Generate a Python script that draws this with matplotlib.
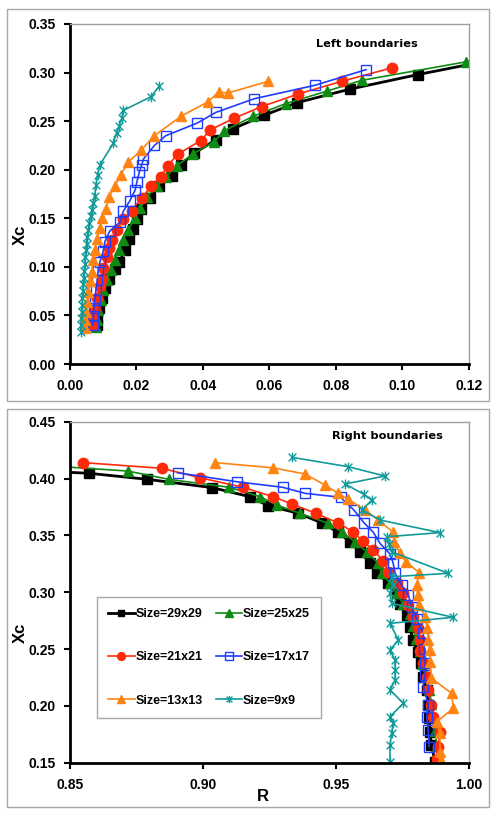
import numpy as np
import matplotlib
matplotlib.use("Agg")
import matplotlib.pyplot as plt
from matplotlib.path import Path
from matplotlib.patches import Rectangle

plt.rcParams["font.family"] = ["Liberation Sans", "DejaVu Sans"]

# ---- Left boundaries (top panel) ----
left_29_r = [0.0080, 0.0082, 0.0088, 0.0095, 0.0105, 0.0118, 0.0135, 0.0148, 0.0166, 0.0178, 0.0190, 0.0201,
             0.0213, 0.0241, 0.0268, 0.0306, 0.0333, 0.0374, 0.0440, 0.0490, 0.0584, 0.0683, 0.0843, 0.1048, 0.1300]
left_29_x = [0.040, 0.048, 0.058, 0.068, 0.078, 0.088, 0.098, 0.105, 0.117, 0.129, 0.139, 0.149,
             0.160, 0.171, 0.183, 0.194, 0.205, 0.217, 0.231, 0.242, 0.256, 0.269, 0.283, 0.298, 0.315]
left_25_r = [0.0078, 0.0080, 0.0085, 0.0092, 0.0100, 0.0110, 0.0122, 0.0135, 0.0148, 0.0160, 0.0175, 0.0195,
             0.0212, 0.0231, 0.0262, 0.0290, 0.0321, 0.0369, 0.0434, 0.0464, 0.0551, 0.0649, 0.0774, 0.0878, 0.1191]
left_25_x = [0.038, 0.045, 0.056, 0.066, 0.076, 0.086, 0.097, 0.107, 0.117, 0.128, 0.138, 0.150,
             0.161, 0.172, 0.183, 0.193, 0.204, 0.216, 0.229, 0.240, 0.255, 0.268, 0.281, 0.292, 0.311]
left_21_r = [0.0068, 0.0070, 0.0075, 0.0080, 0.0090, 0.0095, 0.0100, 0.0110, 0.0118, 0.0125, 0.0140, 0.0160,
             0.0186, 0.0216, 0.0244, 0.0274, 0.0294, 0.0324, 0.0394, 0.0422, 0.0494, 0.0577, 0.0687, 0.0818, 0.0970]
left_21_x = [0.040, 0.049, 0.057, 0.068, 0.080, 0.088, 0.0985, 0.110, 0.119, 0.128, 0.138, 0.149,
             0.158, 0.171, 0.183, 0.193, 0.204, 0.216, 0.230, 0.241, 0.253, 0.265, 0.278, 0.291, 0.305]
left_17_r = [0.0068, 0.0070, 0.0072, 0.0075, 0.0078, 0.0082, 0.0085, 0.0090, 0.0100, 0.0105, 0.0120, 0.0151,
             0.0160, 0.0180, 0.0196, 0.0201, 0.0209, 0.0216, 0.0221, 0.0254, 0.0288, 0.0383, 0.0439, 0.0554,
             0.0738, 0.0891]
left_17_x = [0.040, 0.049, 0.058, 0.066, 0.076, 0.086, 0.097, 0.105, 0.116, 0.126, 0.137, 0.146,
             0.157, 0.168, 0.179, 0.187, 0.198, 0.205, 0.211, 0.225, 0.235, 0.248, 0.259, 0.273,
             0.287, 0.303]
left_13_r = [0.0045, 0.0045, 0.0048, 0.0052, 0.0055, 0.0060, 0.0065, 0.0070, 0.0075, 0.0080, 0.0090, 0.0095,
             0.0108, 0.0118, 0.0135, 0.0153, 0.0176, 0.0214, 0.0254, 0.0334, 0.0416, 0.0447, 0.0475, 0.0597]
left_13_x = [0.037, 0.045, 0.054, 0.064, 0.074, 0.085, 0.095, 0.107, 0.117, 0.129, 0.140, 0.150,
             0.160, 0.172, 0.183, 0.195, 0.208, 0.220, 0.235, 0.255, 0.270, 0.280, 0.279, 0.291]
left_9_r = [0.0032, 0.0033, 0.0034, 0.0035, 0.0036, 0.0037, 0.0038, 0.0040, 0.0041, 0.0043, 0.0045, 0.0046,
            0.0048, 0.0050, 0.0052, 0.0055, 0.0058, 0.0062, 0.0066, 0.0070, 0.0074, 0.0078, 0.0083, 0.0090,
            0.0130, 0.0140, 0.0148, 0.0156, 0.0160, 0.0243, 0.0269]
left_9_x = [0.033, 0.040, 0.047, 0.054, 0.061, 0.068, 0.075, 0.082, 0.089, 0.096, 0.103, 0.110,
            0.117, 0.124, 0.131, 0.138, 0.145, 0.152, 0.159, 0.166, 0.173, 0.184, 0.195, 0.205,
            0.227, 0.2375, 0.245, 0.253, 0.261, 0.275, 0.286]

# ---- Right boundaries (bottom panel) ----
right_29_r = [0.8400, 0.8573, 0.8791, 0.9035, 0.9177, 0.9246, 0.9359, 0.9447, 0.9509, 0.9553, 0.9591, 0.9629,
              0.9654, 0.9698, 0.9729, 0.9742, 0.9767, 0.9779, 0.9789, 0.9810, 0.9819, 0.9829, 0.9842, 0.9848,
              0.9851, 0.9854, 0.9860, 0.9873]
right_29_x = [0.4065, 0.4046, 0.3993, 0.392, 0.384, 0.376, 0.3694, 0.361, 0.3527, 0.3444, 0.3356, 0.326,
              0.317, 0.308, 0.299, 0.290, 0.280, 0.2697, 0.258, 0.2477, 0.2374, 0.2257, 0.214, 0.2008,
              0.189, 0.177, 0.1656, 0.151]
right_25_r = [0.8400, 0.8717, 0.8872, 0.9099, 0.9215, 0.9278, 0.9365, 0.9472, 0.9522, 0.9572, 0.9616, 0.9660,
              0.9673, 0.9704, 0.9729, 0.9752, 0.9779, 0.9790, 0.9800, 0.9815, 0.9825, 0.9838, 0.9852, 0.9860,
              0.9868, 0.9875, 0.9880, 0.9885]
right_25_x = [0.4115, 0.4066, 0.3993, 0.3923, 0.384, 0.3767, 0.3694, 0.3606, 0.3532, 0.3444, 0.3356, 0.3254,
              0.3166, 0.308, 0.299, 0.290, 0.281, 0.270, 0.259, 0.248, 0.237, 0.226, 0.214, 0.202,
              0.190, 0.178, 0.165, 0.153]
right_21_r = [0.8550, 0.8845, 0.8989, 0.9150, 0.9265, 0.9334, 0.9425, 0.9507, 0.9564, 0.9601, 0.9641, 0.9679,
              0.9698, 0.9729, 0.9754, 0.9773, 0.9792, 0.9810, 0.9817, 0.9817, 0.9829, 0.9842, 0.9848, 0.9857,
              0.9867, 0.9892, 0.9886, 0.9880]
right_21_x = [0.414, 0.409, 0.4007, 0.3923, 0.384, 0.3776, 0.3694, 0.3611, 0.3532, 0.345, 0.3371, 0.3274,
              0.318, 0.3084, 0.299, 0.2887, 0.2784, 0.2682, 0.258, 0.2485, 0.2374, 0.2257, 0.214, 0.2008,
              0.1905, 0.1773, 0.164, 0.153]
right_17_r = [0.8905, 0.9127, 0.9300, 0.9384, 0.9518, 0.9568, 0.9606, 0.9641, 0.9666, 0.9704, 0.9716, 0.9723,
              0.9748, 0.9773, 0.9786, 0.9805, 0.9829, 0.9833, 0.9836, 0.9836, 0.9829, 0.9848, 0.9842, 0.9848,
              0.9851]
right_17_x = [0.4051, 0.3972, 0.3923, 0.387, 0.3835, 0.3723, 0.3611, 0.3527, 0.343, 0.3336, 0.3254, 0.3166,
              0.3063, 0.2975, 0.2872, 0.276, 0.2638, 0.250, 0.2374, 0.2272, 0.2169, 0.2008, 0.1905, 0.1788,
              0.164]
right_13_r = [0.9045, 0.9262, 0.9384, 0.9459, 0.9509, 0.9547, 0.9610, 0.9660, 0.9716, 0.9719, 0.9741, 0.9764,
              0.9814, 0.9804, 0.9808, 0.9814, 0.9836, 0.9844, 0.9848, 0.9854, 0.9854, 0.9860, 0.9936, 0.9942,
              0.9880, 0.9892, 0.9892, 0.9895]
right_13_x = [0.414, 0.4095, 0.404, 0.3943, 0.387, 0.3817, 0.3723, 0.3635, 0.3527, 0.3444, 0.3342, 0.3268,
              0.3172, 0.3063, 0.2975, 0.2887, 0.2784, 0.2682, 0.258, 0.2491, 0.2389, 0.2243, 0.211, 0.1979,
              0.1861, 0.1759, 0.1597, 0.152]
right_9_r = [0.9334, 0.9547, 0.9685, 0.9535, 0.9606, 0.9635, 0.9600, 0.9666, 0.9892, 0.9691, 0.9700, 0.9710,
             0.9923, 0.9710, 0.9716, 0.9704, 0.9710, 0.9942, 0.9704, 0.9735, 0.9704, 0.9723, 0.9723, 0.9723,
             0.9704, 0.9754, 0.9704, 0.9716, 0.9710, 0.9704, 0.9704]
right_9_x = [0.4187, 0.4104, 0.4022, 0.3952, 0.3861, 0.3811, 0.3723, 0.3635, 0.3524, 0.3488, 0.3420, 0.3356,
             0.3166, 0.3136, 0.3063, 0.2990, 0.2902, 0.2779, 0.2726, 0.258, 0.2491, 0.2403, 0.2315, 0.2227,
             0.214, 0.2023, 0.1905, 0.1847, 0.1760, 0.1656, 0.151]

labels = ["Size=29x29", "Size=25x25", "Size=21x21", "Size=17x17", "Size=13x13", "Size=9x9"]

# excel-like star: x with a vertical bar
star = Path([(-1, -1), (1, 1), (-1, 1), (1, -1), (0, -1.25), (0, 1.25)],
            [Path.MOVETO, Path.LINETO, Path.MOVETO, Path.LINETO, Path.MOVETO, Path.LINETO])

styles = [
    dict(color="black", marker="s", ms=6.5, lw=2.0),
    dict(color="#0f8a12", marker="^", ms=7, lw=1.2),
    dict(color="#ff2a0a", marker="o", ms=7.5, lw=1.2),
    dict(color="#1f3cff", marker="s", ms=7, lw=1.2, mfc="none", mew=1.0),
    dict(color="#ff8412", marker="^", ms=7.5, lw=1.2),
    dict(color="#119a9a", marker=star, ms=7, lw=1.2, mew=1.0),
]

W, H = 498, 816
fig = plt.figure(figsize=(W / 100, H / 100), dpi=100)

# panel borders
for (x0, y0, x1, y1) in [(7, 9, 489, 401), (7, 409, 489, 807)]:
    fig.patches.append(Rectangle((x0 / W, 1 - y1 / H), (x1 - x0) / W, (y1 - y0) / H,
                                 transform=fig.transFigure, fill=False, ec="#a8a8a8", lw=1.0))

ax1 = fig.add_axes([70 / W, 1 - 364 / H, 398.7 / W, 340 / H])
ax2 = fig.add_axes([70 / W, 1 - 762.7 / H, 398.7 / W, 341 / H])

left = [(left_29_r, left_29_x), (left_25_r, left_25_x), (left_21_r, left_21_x),
        (left_17_r, left_17_x), (left_13_r, left_13_x), (left_9_r, left_9_x)]
right = [(right_29_r, right_29_x), (right_25_r, right_25_x), (right_21_r, right_21_x),
         (right_17_r, right_17_x), (right_13_r, right_13_x), (right_9_r, right_9_x)]

handles = []
for (r, x), st, lab in zip(left, styles, labels):
    ax1.plot(r, x, **st, label=lab)
for (r, x), st, lab in zip(right, styles, labels):
    h, = ax2.plot(r, x, **st, label=lab)
    handles.append(h)

ax1.set_xlim(0, 0.12)
ax1.set_ylim(0, 0.35)
ax1.set_xticks(np.arange(0, 0.121, 0.02))
ax1.set_yticks(np.arange(0, 0.351, 0.05))
ax2.set_xlim(0.85, 1.0)
ax2.set_ylim(0.15, 0.45)
ax2.set_xticks(np.arange(0.85, 1.001, 0.05))
ax2.set_yticks(np.arange(0.15, 0.451, 0.05))

for ax in (ax1, ax2):
    ax.xaxis.set_major_formatter(matplotlib.ticker.FormatStrFormatter("%.2f"))
    ax.yaxis.set_major_formatter(matplotlib.ticker.FormatStrFormatter("%.2f"))
    for s in ("left", "bottom"):
        ax.spines[s].set_linewidth(2.0)
        ax.spines[s].set_color("black")
    for s in ("top", "right"):
        ax.spines[s].set_linewidth(1.0)
        ax.spines[s].set_color("#a0a0a0")
    ax.tick_params(direction="out", length=4, width=1.5)
    ax.tick_params(axis="x", pad=7)
    ax.tick_params(axis="y", pad=6)
    for t in ax.get_xticklabels() + ax.get_yticklabels():
        t.set_fontweight("bold")
        t.set_fontsize(10)
    ax.set_ylabel("Xc", fontsize=12, fontweight="bold")
    ax.yaxis.set_label_coords(-0.105, 0.38)

ax1.text(0.745, 0.942, "Left boundaries", transform=ax1.transAxes, ha="center", va="center",
         fontsize=8.2, fontweight="bold", family="DejaVu Sans")
ax2.text(0.797, 0.958, "Right boundaries", transform=ax2.transAxes, ha="center", va="center",
         fontsize=8.2, fontweight="bold", family="DejaVu Sans")

ax2.set_xlabel("R", fontsize=12, fontweight="bold")
ax2.xaxis.set_label_coords(0.484, -0.077)

order = [0, 2, 4, 1, 3, 5]
leg = ax2.legend([handles[i] for i in order], [labels[i] for i in order], ncol=2,
                 loc="upper left", bbox_to_anchor=((97 - 70) / 398.7, (762.7 - 597) / 341),
                 borderaxespad=0, frameon=True, fancybox=False, edgecolor="#a8a8a8", framealpha=1,
                 prop=dict(weight="bold", size=9), labelspacing=2.5, handlelength=2.1,
                 handletextpad=0.1, columnspacing=1.0, borderpad=0.9, markerscale=0.75)
leg.get_frame().set_linewidth(1.0)

fig.savefig("out.png", dpi=100)
